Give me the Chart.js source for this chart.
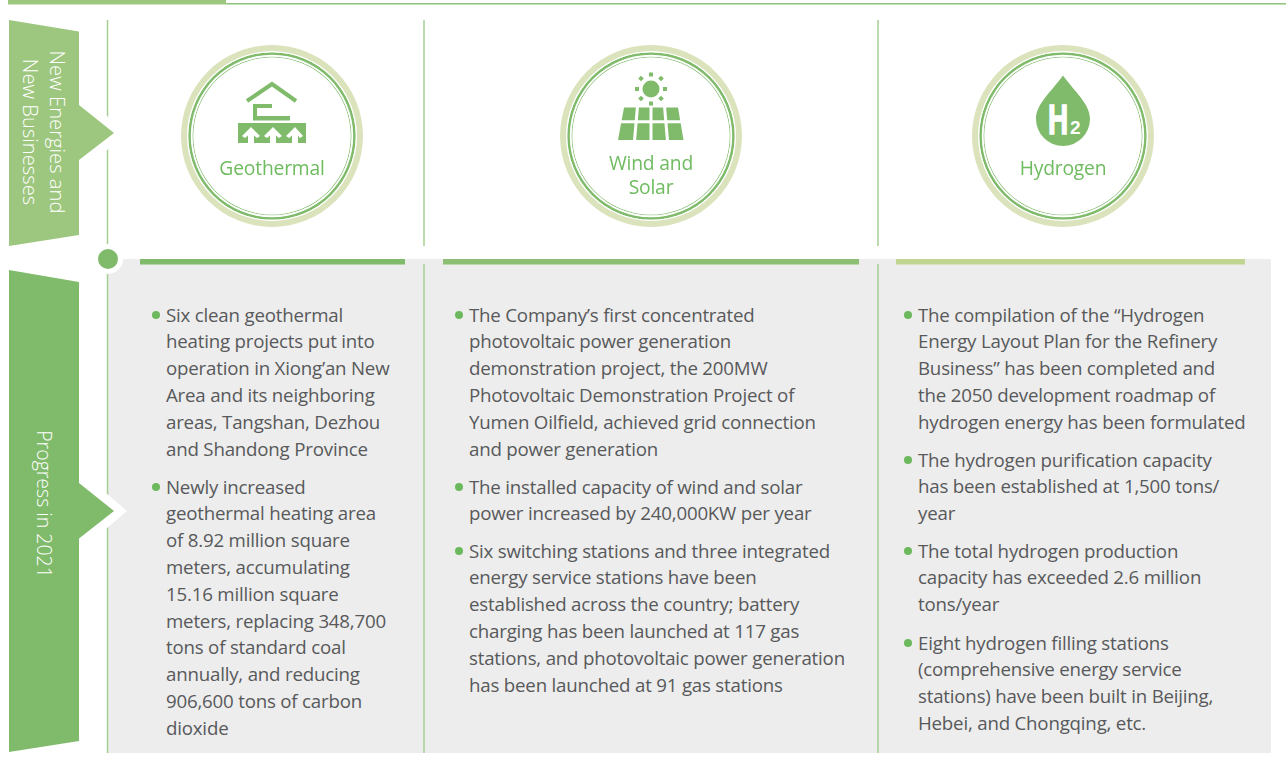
<!DOCTYPE html>
<html>
<head>
<meta charset="utf-8">
<title>New Energies and New Businesses</title>
<script src="https://cdn.jsdelivr.net/npm/chart.js@4"></script>
<style>
html, body { margin: 0; padding: 0; background: #fff; overflow: hidden; }
#page { position: relative; width: 1286px; height: 763px; font-family: "Open Sans", sans-serif; overflow: hidden; }
#page svg { position: absolute; left: 0; top: 0; }
#page canvas { position: absolute; }
.line { position: absolute; white-space: nowrap; font-size: 18.7px; line-height: 26px; height: 26px; color: #58595b; font-weight: 400; letter-spacing: -0.2px; }
.bullet { position: absolute; width: 8px; height: 8px; border-radius: 50%; background: #6cb85c; }
.label { position: absolute; white-space: nowrap; transform: translate(-50%, -50%); font-size: 19.3px; line-height: 22px; color: #6fbb60; letter-spacing: -0.2px; }
.side { position: absolute; white-space: nowrap; writing-mode: vertical-rl; transform: translate(-50%, -50%); font-size: 20.2px; line-height: 24px; font-weight: 300; color: #fff; }
</style>
</head>
<body>
<div id="page">
<svg width="1286" height="763" viewBox="0 0 1286 763">
    <!-- top rule -->
    <rect x="8" y="0" width="218" height="4.5" fill="#9dc77e"/>
    <rect x="226" y="3" width="1060" height="1.5" fill="#8fc27a"/>
    <!-- grey panel and column rules -->
    <rect x="108" y="259" width="1163" height="494" fill="#ededed"/>
    <g stroke="#a5cf93" stroke-width="1.5">
        <line x1="107.5" y1="20" x2="107.5" y2="246"/>
        <line x1="424" y1="20" x2="424" y2="246"/>
        <line x1="878" y1="20" x2="878" y2="246"/>
        <line x1="107.5" y1="264" x2="107.5" y2="753"/>
        <line x1="424" y1="264" x2="424" y2="753"/>
        <line x1="878" y1="264" x2="878" y2="753"/>
    </g>
    <rect x="140" y="259" width="265" height="5.5" fill="#80bb6b"/>
    <rect x="443" y="259" width="416" height="5.5" fill="#8cbf74"/>
    <rect x="896" y="259" width="349" height="5.5" fill="#c2d492"/>
    <!-- banners -->
    <polygon points="79,92 127,133 79,174" fill="#fff"/>
    <polygon points="79,470 127,511 79,552" fill="#fff"/>
    <polygon points="9,20 79,31.5 79,105 114,133 79,160 79,235 9,246" fill="#9dc77e"/>
    <polygon points="9,270 79,282 79,483 114,511 79,538.5 79,741 9,752" fill="#80bb6b"/>
    <circle cx="108" cy="259" r="15" fill="#fff"/>
    <circle cx="108" cy="259" r="10" fill="#80bb6b"/>
    <!-- geothermal icon -->
    <g fill="#80bb6b">
        <polyline points="247,101 272,84 296,101" fill="none" stroke="#80bb6b" stroke-width="4"/>
        <polygon points="253,104 272,104 272,108 257,108 257,116 290,116 290,120.500 253,120.500"/>
        <rect x="238" y="123" width="68" height="20"/>
    </g>
    <g fill="#fff">
        <polygon points="251,127 260,136 257,138 254,135.500 254,143 248,143 248,135.500 245,138 242,136"/>
        <polygon points="273,127 282,136 279,138 276,135.500 276,143 270,143 270,135.500 267,138 264,136"/>
        <polygon points="295,127 303,136 300,138 298,135.500 298,143 292,143 292,135.500 289,138 286,136"/>
    </g>
    <!-- solar icon -->
    <g fill="#80bb6b">
        <circle cx="651" cy="89" r="8.5"/>
        <rect x="649" y="72.500" width="4" height="4"/>
        <rect x="649" y="101.500" width="4" height="4"/>
        <rect x="635" y="87" width="4" height="4"/>
        <rect x="663" y="87" width="4" height="4"/>
        <rect x="639" y="76.500" width="4" height="4" transform="rotate(45 641 78.500)"/>
        <rect x="659" y="76.500" width="4" height="4" transform="rotate(45 661 78.500)"/>
        <rect x="639" y="96.500" width="4" height="4" transform="rotate(45 641 98.500)"/>
        <rect x="659" y="96.500" width="4" height="4" transform="rotate(45 661 98.500)"/>
        <polygon points="624,107.500 678,107.500 683.500,140 618,140"/>
    </g>
    <g stroke="#fff" stroke-width="3">
        <line x1="615" y1="121.700" x2="688" y2="121.700"/>
        <line x1="637.500" y1="106" x2="634.500" y2="141"/>
        <line x1="651" y1="106" x2="651" y2="141"/>
        <line x1="664.500" y1="106" x2="667.500" y2="141"/>
    </g>
    <!-- hydrogen icon -->
    <path d="M1063 75.500 C1075 92 1090 104 1090 119 A27 27 0 0 1 1036 119 C1036 104 1051 92 1063 75.500 Z" fill="#80bb6b"/>
    <text transform="translate(1048 134) scale(0.65 1)" font-family="Liberation Sans" font-weight="700" font-size="43" fill="#fff" stroke="#fff" stroke-width="1.5">H</text>
    <text x="1070" y="134" font-family="Liberation Sans" font-weight="700" font-size="19" fill="#fff">2</text>
</svg>
<canvas id="ring-0" width="182" height="182" style="left:181px;top:45px"></canvas>
<canvas id="ring-1" width="182" height="182" style="left:560px;top:45px"></canvas>
<canvas id="ring-2" width="182" height="182" style="left:972px;top:45px"></canvas>
</div>
<script>
// section names, as printed
const sideLabels = ["New Energies and", "New Businesses", "Progress in 2021"];
const categories = [["Geothermal"], ["Wind and", "Solar"], ["Hydrogen"]];

// bullet text per column, broken where the picture breaks it
const geothermalNotes = [
    ["Six clean geothermal", "heating projects put into", "operation in Xiong’an New", "Area and its neighboring", "areas, Tangshan, Dezhou", "and Shandong Province"],
    ["Newly increased", "geothermal heating area", "of 8.92 million square", "meters, accumulating", "15.16 million square", "meters, replacing 348,700", "tons of standard coal", "annually, and reducing", "906,600 tons of carbon", "dioxide"]
];
const solarNotes = [
    ["The Company’s first concentrated", "photovoltaic power generation", "demonstration project, the 200MW", "Photovoltaic Demonstration Project of", "Yumen Oilfield, achieved grid connection", "and power generation"],
    ["The installed capacity of wind and solar", "power increased by 240,000KW per year"],
    ["Six switching stations and three integrated", "energy service stations have been", "established across the country; battery", "charging has been launched at 117 gas", "stations, and photovoltaic power generation", "has been launched at 91 gas stations"]
];
const hydrogenNotes = [
    ["The compilation of the “Hydrogen", "Energy Layout Plan for the Refinery", "Business” has been completed and", "the 2050 development roadmap of", "hydrogen energy has been formulated"],
    ["The hydrogen purification capacity", "has been established at 1,500 tons/", "year"],
    ["The total hydrogen production", "capacity has exceeded 2.6 million", "tons/year"],
    ["Eight hydrogen filling stations", "(comprehensive energy service", "stations) have been built in Beijing,", "Hebei, and Chongqing, etc."]
];

// each ring is a full circle, the bands run outermost first
const ringSegments = [1];
const bandWeights = [6, 1.2, 2.6, 1.6, 0.8];
const bandColors = ["#dbe3bc", "#ffffff", "#80bb6b", "#ffffff", "#80bb6b"];

const page = document.getElementById("page");

function addText(cls, text, x, y){
    let el = document.createElement("div");
    el.className = cls;
    el.textContent = text;
    el.style.left = x + "px";
    el.style.top = y + "px";
    page.appendChild(el);
    return el;
}

function addColumn(notes, bulletX, textX, firstLines){
    notes.forEach((lines, i) => {
        let mid = firstLines[i];
        addText("bullet", "", bulletX - 4, mid - 4);
        lines.forEach((line, j) => {
            addText("line", line, textX, mid - 13.5 + j * 26.8);
        });
    });
}

addColumn(geothermalNotes, 156, 166, [315, 487]);
addColumn(solarNotes, 459, 469, [315, 487, 551]);
addColumn(hydrogenNotes, 908, 918, [315, 460, 551, 643]);

addText("side", sideLabels[0], 58, 131.5);
addText("side", sideLabels[1], 31, 131.5);
addText("side", sideLabels[2], 44, 504).style.fontSize = "19.5px";

addText("label", categories[0][0], 272, 167.5);
addText("label", categories[1][0], 651, 162.5);
addText("label", categories[1][1], 651, 186.5);
addText("label", categories[2][0], 1063, 167.5);

function createRing(id){
    let ctx = document.getElementById(id).getContext("2d");
    return new Chart(ctx, {
        type: "doughnut",
        data: {
            labels: ["ring"],
            datasets: bandWeights.map((w, i) => ({
                data: ringSegments,
                weight: w,
                backgroundColor: bandColors[i],
                borderWidth: 0,
                hoverOffset: 0
            }))
        },
        options: {
            responsive: false,
            animation: false,
            cutout: "86.6%",
            plugins: { legend: { display: false }, tooltip: { enabled: false } }
        }
    });
}

createRing("ring-0");
createRing("ring-1");
createRing("ring-2");
</script>
</body>
</html>
